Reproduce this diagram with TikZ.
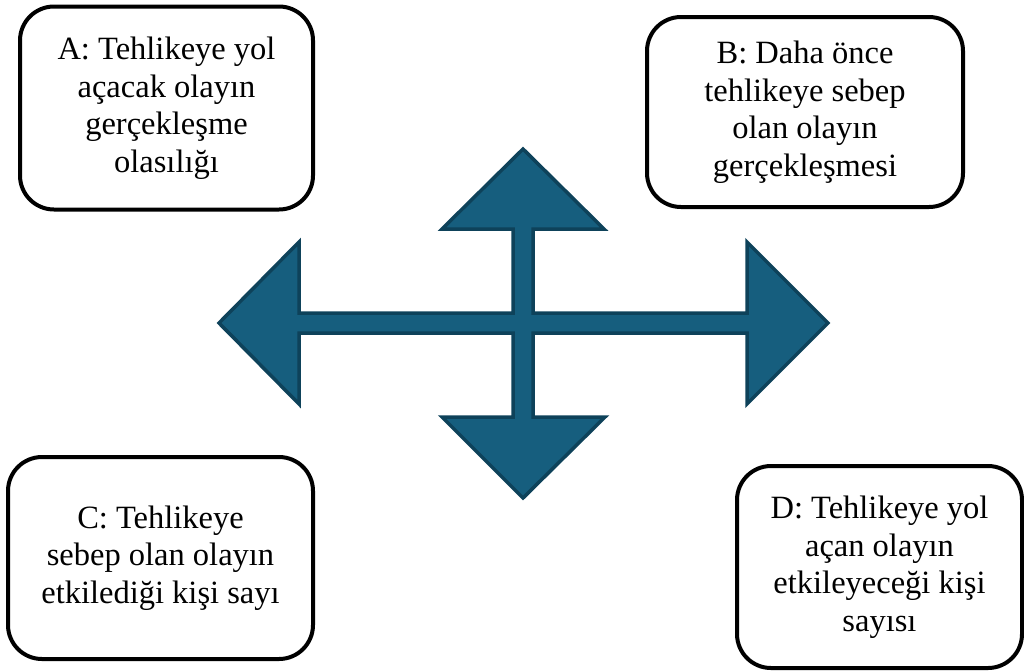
\documentclass[tikz,border=0pt]{standalone}
\usepackage{fontspec}
\setmainfont{Liberation Serif}
\definecolor{arrowfill}{RGB}{22,94,126}
\definecolor{arrowline}{RGB}{14,66,90}
\begin{document}
\begin{tikzpicture}[x=1pt,y=-1pt,
  infobox/.style={draw=black, line width=4pt, rounded corners=34pt, fill=white,
    align=center, inner sep=0pt,
    font=\fontsize{32.5}{37.5}\selectfont},
  crossarrow/.style={fill=arrowfill, draw=arrowline, line width=3.5pt, line join=miter}]
\useasboundingbox (0,0) rectangle (1024,670);
\node[infobox, minimum width=293pt, minimum height=203pt] (A) at (166.5,108)
  {A: Tehlikeye yol\\açacak olayın\\gerçekleşme\\olasılığı};
\node[infobox, minimum width=316pt, minimum height=190pt] (B) at (805,112)
  {B: Daha önce\\tehlikeye sebep\\olan olayın\\gerçekleşmesi};
\node[infobox, minimum width=305pt, minimum height=202pt] (C) at (160.5,558)
  {C: Tehlikeye\\sebep olan olayın\\etkilediği kişi sayı};
\node[infobox, minimum width=285pt, minimum height=202pt] (D) at (879.5,567)
  {D: Tehlikeye yol\\açan olayın\\etkileyeceği kişi\\sayısı};
\draw[crossarrow]
  (523,149) -- (604,229) -- (533,229) -- (533,313) -- (747,313) -- (747,242)
  -- (828,323) -- (747,404) -- (747,333) -- (533,333) -- (533,417) -- (605,417)
  -- (523,498) -- (442,417) -- (513,417) -- (513,333) -- (299,333) -- (299,404)
  -- (219,323) -- (299,242) -- (299,313) -- (513,313) -- (513,229) -- (442,229)
  -- cycle;
\end{tikzpicture}
\end{document}
